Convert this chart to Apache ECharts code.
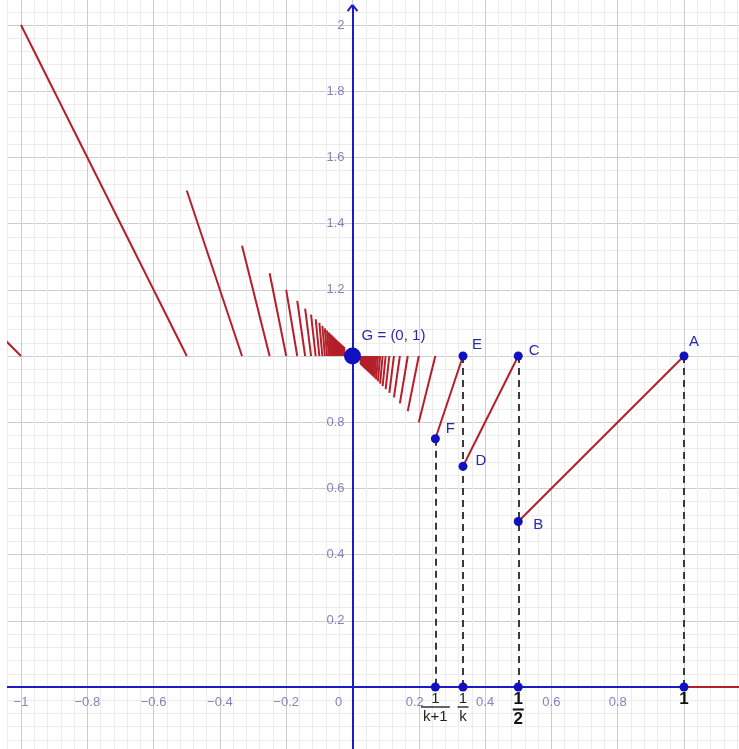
<!DOCTYPE html>
<html><head><meta charset="utf-8">
<script src="https://cdn.jsdelivr.net/npm/echarts@6/dist/echarts.min.js"></script>
<style>html,body{margin:0;padding:0;background:#fff}#c{width:739px;height:749px}</style>
</head><body><div id="c"></div>
<script>
// breakpoints 1/k (k = 1..41)
const breaks = [1, 0.5, 0.3333, 0.25, 0.2, 0.1667, 0.1429, 0.125, 0.1111, 0.1,
  0.0909, 0.0833, 0.0769, 0.0714, 0.0667, 0.0625, 0.0588, 0.0556, 0.0526, 0.05,
  0.0476, 0.0455, 0.0435, 0.0417, 0.04, 0.0385, 0.037, 0.0357, 0.0345, 0.0333,
  0.0323, 0.0313, 0.0303, 0.0294, 0.0286, 0.0278, 0.027, 0.0263, 0.0256, 0.025, 0.0244];
// lower end of each positive-side segment (at x = breaks[i+1])
const posLowY = [0.5, 0.6667, 0.75, 0.8, 0.8333, 0.8571, 0.875, 0.8889, 0.9, 0.9091,
  0.9167, 0.9231, 0.9286, 0.9333, 0.9375, 0.9412, 0.9444, 0.9474, 0.95, 0.9524,
  0.9545, 0.9565, 0.9583, 0.96, 0.9615, 0.963, 0.9643, 0.9655, 0.9667, 0.9677,
  0.9688, 0.9697, 0.9706, 0.9714, 0.9722, 0.973, 0.9737, 0.9744, 0.975, 0.9756];
// upper end of each negative-side segment (at x = -breaks[i])
const negHighY = [2, 1.5, 1.3333, 1.25, 1.2, 1.1667, 1.1429, 1.125, 1.1111, 1.1,
  1.0909, 1.0833, 1.0769, 1.0714, 1.0667, 1.0625, 1.0588, 1.0556, 1.0526, 1.05,
  1.0476, 1.0455, 1.0435, 1.0417, 1.04, 1.0385, 1.037, 1.0357, 1.0345, 1.0333,
  1.0323, 1.0313, 1.0303, 1.0294, 1.0286, 1.0278, 1.027, 1.0263, 1.0256, 1.025];
const segTopY = 1;
const leftTail = [[-1.2, 1.2], [-1, 1]];
const rightTail = [[1, 0], [1.2, 0]];
const dashedTops = [[1, 1], [0.5, 1], [0.3333, 1], [0.25, 0.75]];
const pointNames = ['A', 'B', 'C', 'D', 'E', 'F'];
const pointX = [1, 0.5, 0.5, 0.3333, 0.3333, 0.25];
const pointY = [1, 0.5, 1, 0.6667, 1, 0.75];
const gPoint = [0, 1];
const gLabel = 'G = (0, 1)';
const axisPointX = [0.25, 0.3333, 0.5, 1];
const axisPointKeys = ['kp1', 'k', 'half', 'one'];
const xTickValues = [-1, -0.8, -0.6, -0.4, -0.2, 0, 0.2, 0.4, 0.6, 0.8];
const xTickLabels = ['\u22121', '\u22120.8', '\u22120.6', '\u22120.4', '\u22120.2', '0', '0.2', '0.4', '0.6', '0.8'];
const yTickValues = [0.2, 0.4, 0.6, 0.8, 1.2, 1.4, 1.6, 1.8, 2];
const yTickLabels = ['0.2', '0.4', '0.6', '0.8', '1.2', '1.4', '1.6', '1.8', '2'];
const yAxisLine = [[0, -0.2], [0, 2.06]];
const yArrow = [[[-0.015, 2.042], [0, 2.061]], [[0.015, 2.042], [0, 2.061]]];

const RED = '#b41f29', BLUE_AX = '#1c1cc4', PT = '#1010c0', LBL = '#2a2aa8', TICK = '#6464b2';
const FONT = 'Liberation Sans';
const CLEAR = 'rgba(0,0,0,0)';

const redSegs = [];
for (let i = 0; i < posLowY.length; i++) {
  redSegs.push({coords: [[breaks[i + 1], posLowY[i]], [breaks[i], segTopY]]});
}
for (let i = 0; i < negHighY.length; i++) {
  redSegs.push({coords: [[-breaks[i], negHighY[i]], [-breaks[i + 1], segTopY]]});
}
redSegs.push({coords: leftTail});
redSegs.push({coords: rightTail});

const dashSegs = dashedTops.map(p => ({coords: [[p[0], p[1]], [p[0], 0]]}));

const labelOffsets = {A: [10, -14], B: [20, 3], C: [16, -5], D: [18, -5], E: [14, -11], F: [15, -10]};
const namedPts = pointNames.map((n, i) => ({
  value: [pointX[i], pointY[i]], name: n,
  label: {show: true, position: 'inside', offset: labelOffsets[n], formatter: n,
    color: LBL, fontSize: 15, fontFamily: FONT}
}));

const fracFormat = {
  kp1: '{n|1}\n{b| }\n{d|k+1}',
  k: '{n|1}\n{s| }\n{d|k}',
  half: '{N|1}\n{B| }\n{N|2}',
  one: '{N|1}'
};
const axisPts = axisPointX.map((x, i) => ({
  value: [x, 0],
  label: {show: true, position: 'bottom', distance: 0, formatter: fracFormat[axisPointKeys[i]]}
}));

const xTickPts = xTickValues.map((v, i) => ({
  value: [v, 0],
  label: {show: true, position: 'inside', offset: [v === 0 ? -14 : (v === 0.2 ? -4 : 0), 15], formatter: xTickLabels[i]}
}));
const yTickPts = yTickValues.map((v, i) => ({
  value: [0, v],
  label: {show: true, position: 'left', distance: 7, formatter: yTickLabels[i]}
}));

const chart = echarts.init(document.getElementById('c'), null, {renderer: 'canvas'});
chart.setOption({
  animation: false,
  backgroundColor: '#ffffff',
  grid: {left: -45.3, right: -11.3, top: -41.2, bottom: -4.2, containLabel: false, outerBoundsMode: 'none'},
  xAxis: {
    type: 'value', min: -1.2, max: 1.2, interval: 0.2,
    axisLine: {show: true, onZero: true, lineStyle: {color: BLUE_AX, width: 2}},
    axisTick: {show: false},
    axisLabel: {show: false},
    minorTick: {show: false, splitNumber: 5},
    splitLine: {show: true, lineStyle: {color: '#cdcdcd', width: 1}},
    minorSplitLine: {show: true, lineStyle: {color: '#ececec', width: 1}}
  },
  yAxis: {
    type: 'value', min: -0.2, max: 2.2, interval: 0.2,
    axisLine: {show: false, onZero: true},
    axisTick: {show: false},
    axisLabel: {show: false},
    minorTick: {show: false, splitNumber: 5},
    splitLine: {show: true, lineStyle: {color: '#cdcdcd', width: 1}},
    minorSplitLine: {show: true, lineStyle: {color: '#ececec', width: 1}}
  },
  graphic: [{type: 'rect', left: 0, top: 0, shape: {width: 7, height: 749}, style: {fill: '#ffffff'}, z: 100}],
  series: [
    {type: 'scatter', z: 2, symbol: 'circle', symbolSize: 2, silent: true,
      itemStyle: {color: CLEAR},
      label: {color: TICK, fontSize: 13, fontFamily: FONT, align: 'center', verticalAlign: 'middle'},
      data: xTickPts},
    {type: 'scatter', z: 2, symbol: 'circle', symbolSize: 2, silent: true,
      itemStyle: {color: CLEAR},
      label: {color: TICK, fontSize: 13, fontFamily: FONT},
      data: yTickPts},
    {type: 'lines', coordinateSystem: 'cartesian2d', z: 3,
      lineStyle: {color: BLUE_AX, width: 2, opacity: 1},
      data: [{coords: yAxisLine}].concat(yArrow.map(c => ({coords: c})))},
    {type: 'lines', coordinateSystem: 'cartesian2d', z: 4,
      lineStyle: {color: RED, width: 2, opacity: 1}, data: redSegs},
    {type: 'lines', coordinateSystem: 'cartesian2d', z: 5,
      lineStyle: {color: '#3a3a3a', width: 2, type: [7, 5], opacity: 1}, data: dashSegs},
    {type: 'scatter', z: 6, symbolSize: 9, itemStyle: {color: PT, opacity: 1},
      data: namedPts},
    {type: 'scatter', z: 6, symbolSize: 9, itemStyle: {color: PT, opacity: 1},
      label: {
        color: '#222', fontFamily: FONT,
        rich: {
          n: {fontSize: 15, color: '#222', lineHeight: 14, align: 'center', fontFamily: FONT},
          d: {fontSize: 15, color: '#222', lineHeight: 16, align: 'center', fontFamily: FONT},
          b: {width: 29, height: 1.5, lineHeight: 3, fontSize: 1, backgroundColor: '#333', align: 'center'},
          s: {width: 11, height: 1.5, lineHeight: 3, fontSize: 1, backgroundColor: '#333', align: 'center'},
          N: {fontSize: 17, fontWeight: 'bold', color: '#111', lineHeight: 16, align: 'center', fontFamily: FONT},
          B: {width: 11, height: 2, lineHeight: 4, fontSize: 1, backgroundColor: '#111', align: 'center'}
        }
      },
      data: axisPts},
    {type: 'scatter', z: 7, symbolSize: 17, itemStyle: {color: PT, opacity: 1},
      data: [{value: gPoint, label: {show: true, position: 'inside', offset: [41, -20], formatter: gLabel,
        color: LBL, fontSize: 15, fontFamily: FONT}}]}
  ]
});
</script></body></html>
